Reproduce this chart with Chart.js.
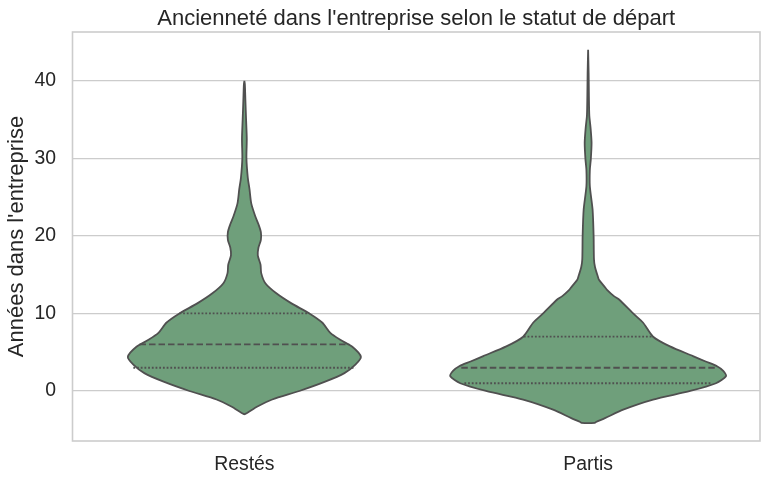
<!DOCTYPE html>
<html lang="fr">
<head>
<meta charset="utf-8">
<title>Ancienneté dans l'entreprise</title>
<script src="https://cdn.jsdelivr.net/npm/chart.js@4.4.1/dist/chart.umd.min.js"></script>
<style>
  html, body { margin: 0; padding: 0; background: #ffffff; }
  #wrap { width: 768px; height: 483px; position: relative; }
</style>
</head>
<body>
<div id="wrap"><canvas id="violinChart"></canvas></div>
<script>
// ======================================================
// DATA
// ======================================================

const categories = ["Restés", "Partis"];
const yTicks = [0, 10, 20, 30, 40];

// Restés: density outline, value (years) and half-width (x units)
const restesValues = [-3.0, -2.8, -2.0, -1.1, 0, 1.2, 2.3, 3.4, 4.4, 5.7, 6.6, 7.5, 8.8, 10, 11.3, 12.6, 13.9, 15.2, 16.3, 17.5, 18.5, 19.5, 20.5, 21.5, 22.5, 24.2, 26, 27.5, 30, 32.5, 35, 37.5, 39.5, 40];
const restesWidths = [0, 0.009, 0.038, 0.081, 0.160, 0.235, 0.291, 0.323, 0.339, 0.314, 0.279, 0.250, 0.227, 0.189, 0.137, 0.093, 0.061, 0.049, 0.047, 0.039, 0.041, 0.048, 0.048, 0.041, 0.032, 0.020, 0.015, 0.010, 0.006, 0.007, 0.005, 0.003, 0.0015, 0];

// Partis
const partisValues = [-4.12, -4.0, -3.5, -2.4, -1.1, 0, 1.0, 1.9, 2.6, 3.2, 3.8, 4.5, 5.75, 7.0, 8.8, 10, 11.8, 12.2, 13.05, 13.5, 14.3, 14.8, 16, 17, 20, 23.4, 26.4, 28.5, 30, 32, 34, 35.5, 38, 41, 44];
const partisWidths = [0.0195, 0.023, 0.049, 0.102, 0.189, 0.297, 0.372, 0.401, 0.393, 0.375, 0.342, 0.305, 0.238, 0.189, 0.160, 0.131, 0.090, 0.076, 0.055, 0.047, 0.032, 0.028, 0.020, 0.017, 0.016, 0.013, 0.005, 0.005, 0.008, 0.010, 0.007, 0.0035, 0.0023, 0.0015, 0];

// Quartiles (Q1, median, Q3) and the violin half-width at each
const restesQuartiles = [3, 6, 10];
const restesQuartileWidths = [0.323, 0.305, 0.189];
const partisQuartiles = [1, 3, 7];
const partisQuartileWidths = [0.36, 0.369, 0.187];

// ======================================================
// STYLE
// ======================================================

const FONT = "'Liberation Sans', Arial, sans-serif";
const TEXT_COLOR = "#262626";
const GRID_COLOR = "#cccccc";
const FILL_COLOR = "#6f9f7b";
const LINE_COLOR = "#505050";

// ======================================================
// BUILD DATASETS
// ======================================================

function violinOutline(center, values, widths) {
  const left = [];
  const right = [];
  for (let i = values.length - 1; i >= 0; i--) {
    left.push({ x: center - widths[i], y: values[i] });
  }
  for (let i = 0; i < values.length; i++) {
    right.push({ x: center + widths[i], y: values[i] });
  }
  return left.concat(right);
}

function quartileLines(center, quartiles, widths) {
  return quartiles.map((q, i) => ({
    data: [
      { x: center - widths[i], y: q },
      { x: center + widths[i], y: q },
    ],
    borderColor: LINE_COLOR,
    borderWidth: 1.8,
    borderDash: i === 1 ? [6.5, 3] : [1.8, 1.9],
    pointRadius: 0,
    fill: false,
    tension: 0,
    order: 0,
  }));
}

const violins = [
  violinOutline(0, restesValues, restesWidths),
  violinOutline(1, partisValues, partisWidths),
].map((points) => ({
  data: points,
  borderColor: LINE_COLOR,
  borderWidth: 1.8,
  backgroundColor: FILL_COLOR,
  fill: "shape",
  pointRadius: 0,
  tension: 0.25,
  order: 1,
}));

const datasets = violins
  .concat(quartileLines(0, restesQuartiles, restesQuartileWidths))
  .concat(quartileLines(1, partisQuartiles, partisQuartileWidths));

// ======================================================
// PLOT FRAME (all four spines)
// ======================================================

const framePlugin = {
  id: "frame",
  beforeDatasetsDraw(chart) {
    const { ctx, chartArea: a } = chart;
    ctx.save();
    ctx.strokeStyle = GRID_COLOR;
    ctx.lineWidth = 1.6;
    ctx.strokeRect(a.left, a.top, a.right - a.left, a.bottom - a.top);
    ctx.restore();
  },
};

// ======================================================
// CHART
// ======================================================

new Chart(document.getElementById("violinChart"), {
  type: "line",
  data: { datasets },
  plugins: [framePlugin],
  options: {
    responsive: true,
    maintainAspectRatio: false,
    animation: false,
    layout: { padding: { left: 0, right: 8, top: 0, bottom: 0 } },
    plugins: {
      legend: { display: false },
      tooltip: { enabled: false },
      title: {
        display: true,
        text: "Ancienneté dans l'entreprise selon le statut de départ",
        fullSize: false,
        color: TEXT_COLOR,
        font: { family: FONT, size: 22, weight: "normal" },
        padding: { top: 5.5, bottom: 0.1 },
      },
    },
    scales: {
      x: {
        type: "linear",
        min: -0.5,
        max: 1.5,
        afterBuildTicks: (scale) => {
          scale.ticks = categories.map((_, i) => ({ value: i }));
        },
        afterFit: (scale) => {
          scale.height = 42;
        },
        ticks: {
          color: TEXT_COLOR,
          font: { family: FONT, size: 19.4 },
          padding: 12.3,
          maxRotation: 0,
          callback: (value) => categories[value] ?? "",
        },
        grid: { display: false, drawTicks: false },
        border: { display: false },
      },
      y: {
        min: -6.45,
        max: 46.3,
        afterBuildTicks: (scale) => {
          scale.ticks = yTicks.map((v) => ({ value: v }));
        },
        afterFit: (scale) => {
          scale.width = 72.5;
        },
        ticks: {
          color: TEXT_COLOR,
          font: { family: FONT, size: 19.4 },
          padding: 16.5,
        },
        grid: { color: GRID_COLOR, lineWidth: 1.2, drawTicks: false },
        border: { display: false },
        title: {
          display: true,
          text: "Années dans l'entreprise",
          color: TEXT_COLOR,
          font: { family: FONT, size: 22 },
          padding: { top: 3.3, bottom: 0 },
        },
      },
    },
  },
});
</script>
</body>
</html>
